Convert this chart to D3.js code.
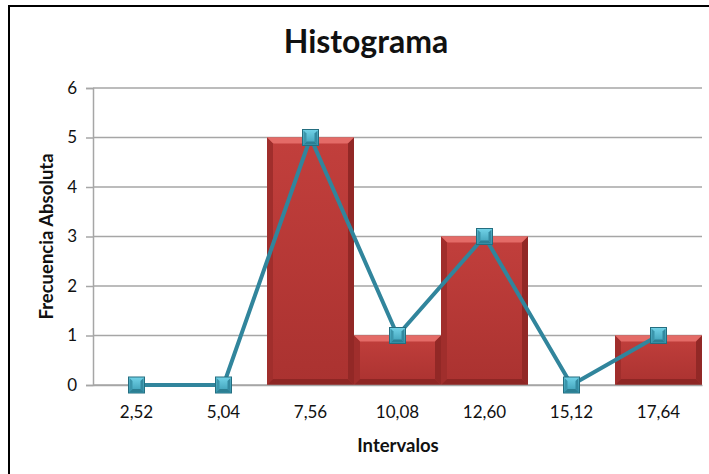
<!DOCTYPE html>
<html>
<head>
<meta charset="utf-8">
<script src="https://cdn.jsdelivr.net/npm/d3@7"></script>
<style>
  html, body { margin: 0; padding: 0; background: #fff; }
  svg { display: block; }
  text { font-family: Lato, "Open Sans", "DejaVu Sans", sans-serif; fill: #111; }
</style>
</head>
<body>
<svg id="chart" width="709" height="474"></svg>
<script>
// Histogram data: class marks and absolute frequencies
const intervalos = ["2,52", "5,04", "7,56", "10,08", "12,60", "15,12", "17,64"];
const frecuencias = [0, 0, 5, 1, 3, 0, 1];
const yTicks = [0, 1, 2, 3, 4, 5, 6];

const svg = d3.select("#chart");
const W = 709, H = 474;
const margin = { left: 93, right: 7, top: 88, bottom: 89 };

// outer chart frame
svg.append("rect")
  .attr("x", 9).attr("y", 6)
  .attr("width", W + 10).attr("height", H + 10)
  .attr("fill", "#fff").attr("stroke", "#000").attr("stroke-width", 2);

const defs = svg.append("defs");
const barGrad = defs.append("linearGradient").attr("id", "barGrad")
  .attr("x1", 0).attr("y1", 0).attr("x2", 0).attr("y2", 1);
barGrad.append("stop").attr("offset", "0%").attr("stop-color", "#c23f3c");
barGrad.append("stop").attr("offset", "100%").attr("stop-color", "#aa3230");

const mkGrad = defs.append("linearGradient").attr("id", "mkGrad")
  .attr("x1", 0).attr("y1", 0).attr("x2", 0).attr("y2", 1);
mkGrad.append("stop").attr("offset", "0%").attr("stop-color", "#72d3e8");
mkGrad.append("stop").attr("offset", "100%").attr("stop-color", "#3a9bb3");

const x = d3.scaleBand()
  .domain(intervalos)
  .range([margin.left, W - margin.right])
  .paddingInner(0).paddingOuter(0);

const y = d3.scaleLinear()
  .domain([0, 6])
  .range([H - margin.bottom, margin.top]);

// horizontal gridlines
svg.append("g")
  .selectAll("line")
  .data(yTicks)
  .join("line")
  .attr("x1", margin.left).attr("x2", W - margin.right)
  .attr("y1", d => y(d)).attr("y2", d => y(d))
  .attr("stroke", "#a6a6a6").attr("stroke-width", 1.5);

// bars with bevelled edges
const bars = svg.append("g");
intervalos.forEach((c, i) => {
  const v = frecuencias[i];
  if (v <= 0) return;
  const x0 = x(c), x1 = x(c) + x.bandwidth();
  const y0 = y(v), y1 = y(0);
  const b = 6;
  const g = bars.append("g");
  g.append("rect")
    .attr("x", x0).attr("y", y0)
    .attr("width", x1 - x0).attr("height", y1 - y0)
    .attr("fill", "url(#barGrad)");
  // top bevel
  g.append("polygon")
    .attr("points", [[x0, y0], [x1, y0], [x1 - b, y0 + b], [x0 + b, y0 + b]].join(" "))
    .attr("fill", "#e46b67");
  // left bevel
  g.append("polygon")
    .attr("points", [[x0, y0], [x0 + b, y0 + b], [x0 + b, y1 - b], [x0, y1]].join(" "))
    .attr("fill", "#a02e2c");
  // right bevel
  g.append("polygon")
    .attr("points", [[x1, y0], [x1 - b, y0 + b], [x1 - b, y1 - b], [x1, y1]].join(" "))
    .attr("fill", "#922826");
  // bottom bevel
  g.append("polygon")
    .attr("points", [[x0, y1], [x0 + b, y1 - b], [x1 - b, y1 - b], [x1, y1]].join(" "))
    .attr("fill", "#8e2624");
});

// axes
const yAxis = d3.axisLeft(y).tickValues(yTicks).tickSize(7).tickPadding(9).tickFormat(d3.format("d"));
const gy = svg.append("g").attr("transform", `translate(${margin.left},0)`).call(yAxis);
gy.select(".domain").attr("stroke", "#a6a6a6").attr("stroke-width", 1.5);
gy.selectAll(".tick line").attr("stroke", "#a6a6a6").attr("stroke-width", 1.5);
gy.selectAll("text").attr("font-size", 17).style("font-family", "Lato, 'Open Sans', sans-serif");

const xAxis = d3.axisBottom(x).tickSize(0).tickPadding(21);
const gx = svg.append("g").attr("transform", `translate(0,${y(0)})`).call(xAxis);
gx.select(".domain").attr("stroke", "#a6a6a6").attr("stroke-width", 1.5);
gx.selectAll("text").attr("font-size", 17).style("font-family", "Lato, 'Open Sans', sans-serif");

// frequency polygon line
const line = d3.line()
  .x((d, i) => x(intervalos[i]) + x.bandwidth() / 2)
  .y(d => y(d));
svg.append("path")
  .datum(frecuencias)
  .attr("d", line)
  .attr("fill", "none")
  .attr("stroke", "#31859c")
  .attr("stroke-width", 4)
  .attr("stroke-linejoin", "round");

// square markers
const s = 16;
const mk = svg.append("g").selectAll("g")
  .data(frecuencias)
  .join("g")
  .attr("transform", (d, i) => `translate(${x(intervalos[i]) + x.bandwidth() / 2},${y(d)})`);
mk.append("rect")
  .attr("x", -s / 2).attr("y", -s / 2).attr("width", s).attr("height", s)
  .attr("fill", "url(#mkGrad)")
  .attr("stroke", "#246e80").attr("stroke-width", 1);
mk.append("polygon")
  .attr("points", `${-s/2+1},${s/2-1} ${-s/2+4},${s/2-4} ${s/2-4},${s/2-4} ${s/2-1},${s/2-1}`)
  .attr("fill", "#2c7f93");
mk.append("polygon")
  .attr("points", `${-s/2+1},${-s/2+1} ${-s/2+4},${-s/2+4} ${-s/2+4},${s/2-4} ${-s/2+1},${s/2-1}`)
  .attr("fill", "#3b95ab");
mk.append("polygon")
  .attr("points", `${s/2-1},${-s/2+1} ${s/2-4},${-s/2+4} ${s/2-4},${s/2-4} ${s/2-1},${s/2-1}`)
  .attr("fill", "#3389a0");

// titles
svg.append("text")
  .attr("x", 366).attr("y", 53)
  .attr("text-anchor", "middle")
  .attr("font-size", 32).attr("font-weight", "bold")
  .text("Histograma");

svg.append("text")
  .attr("x", 398).attr("y", 452)
  .attr("text-anchor", "middle")
  .attr("font-size", 18.5).attr("font-weight", "bold")
  .text("Intervalos");

svg.append("text")
  .attr("transform", `translate(53,${(y(0) + y(6)) / 2}) rotate(-90)`)
  .attr("text-anchor", "middle")
  .attr("font-size", 18.5).attr("font-weight", "bold")
  .text("Frecuencia Absoluta");
</script>
</body>
</html>
